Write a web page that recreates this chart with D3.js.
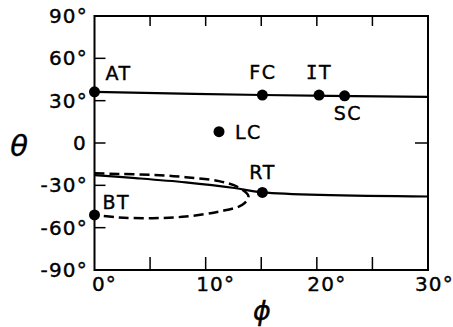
<!DOCTYPE html>
<html>
<head>
<meta charset="utf-8">
<script src="https://cdn.jsdelivr.net/npm/d3@7"></script>
<style>
  body { margin: 0; background: #fff; }
  text { font-family: "DejaVu Sans", sans-serif; fill: #000; stroke: #000; stroke-width: 0.4; }
</style>
</head>
<body>
<div id="chart"></div>
<script>
// tick values / labels
const xTicks = [0, 10, 20, 30];
const xMinorTicks = [5, 10, 15, 20, 25];
const yTicks = [90, 60, 30, 0, -30, -60, -90];
const yTickLabels = ["90°", "60°", "30°", "0", "-30°", "-60°", "-90°"];

// labelled states (phi, theta)
const pointNames = ["AT", "FC", "IT", "SC", "LC", "RT", "BT"];
const pointPhi   = [0, 15.1, 20.2, 22.5, 11.2, 15.1, 0];
const pointTheta = [36.3, 34, 34, 33.4, 8, -35, -51];

// upper solid branch
const upperPhi   = [0, 15.1, 30];
const upperTheta = [36.3, 34, 32.7];

// lower solid branch
const lowerPhi   = [0, 3.7, 8.2, 12.6, 15.1, 30];
const lowerTheta = [-22.8, -24.9, -27.9, -31.9, -35, -37.9];

// dashed loop, BT side
const loopPhi   = [0, 2.1, 5.2, 8.2, 11.2, 12.9, 13.85, 13.3, 11.2, 8.2, 5.2, 2.2, 0];
const loopTheta = [-21.5, -21.9, -22.6, -24.2, -27.0, -31.2, -37.9, -43.8, -48.6, -52.1, -53.3, -52.8, -51];

const W = 453, H = 327;
const box = {left: 94.5, right: 428, top: 16, bottom: 270};

const svg = d3.select("#chart").append("svg")
    .attr("width", W)
    .attr("height", H);

const x = d3.scaleLinear().domain([0, 30]).range([box.left, box.right]);
const y = d3.scaleLinear().domain([-90, 90]).range([box.bottom, box.top]);

// frame
svg.append("rect")
    .attr("x", box.left)
    .attr("y", box.top)
    .attr("width", box.right - box.left)
    .attr("height", box.bottom - box.top)
    .attr("fill", "none")
    .attr("stroke", "#000")
    .attr("stroke-width", 2);

// inner ticks, top and bottom
xMinorTicks.forEach(t => {
    svg.append("line")
        .attr("x1", x(t)).attr("x2", x(t))
        .attr("y1", box.top).attr("y2", box.top + 10)
        .attr("stroke", "#000").attr("stroke-width", 1.5);
    svg.append("line")
        .attr("x1", x(t)).attr("x2", x(t))
        .attr("y1", box.bottom).attr("y2", box.bottom - 13)
        .attr("stroke", "#000").attr("stroke-width", 1.5);
});

// inner ticks, left side, and one on the right at 0
[60, 30, 0, -30, -60].forEach(t => {
    svg.append("line")
        .attr("x1", box.left).attr("x2", box.left + 11)
        .attr("y1", y(t)).attr("y2", y(t))
        .attr("stroke", "#000").attr("stroke-width", 1.5);
});
svg.append("line")
    .attr("x1", box.right).attr("x2", box.right - 13)
    .attr("y1", y(0)).attr("y2", y(0))
    .attr("stroke", "#000").attr("stroke-width", 1.5);

// tick labels
svg.selectAll(".xlab")
    .data(xTicks)
    .enter().append("text")
    .attr("y", 291)
    .attr("text-anchor", "middle")
    .attr("font-size", 20)
    .attr("letter-spacing", 1.2)
    .text(d => d + "°")
    .attr("x", function(d) {
        const w = this.getComputedTextLength();
        return Math.min(x(d) + 10, W + 1 - w / 2);
    });

svg.selectAll(".ylab")
    .data(yTicks)
    .enter().append("text")
    .attr("x", (d, i) => yTickLabels[i].endsWith("°") ? 88 : 87)
    .attr("y", d => y(d) + 7)
    .attr("text-anchor", "end")
    .attr("font-size", 20)
    .attr("letter-spacing", 1.2)
    .text((d, i) => yTickLabels[i]);

// axis titles
svg.append("text")
    .attr("x", 19).attr("y", 156)
    .attr("text-anchor", "middle")
    .attr("font-size", 29)
    .attr("font-style", "italic")
    .text("θ");

svg.append("text")
    .attr("x", 262).attr("y", 320)
    .attr("text-anchor", "middle")
    .attr("font-size", 27)
    .attr("font-style", "italic")
    .text("ϕ");

// curves
const line = d3.line()
    .x(d => x(d[0]))
    .y(d => y(d[1]))
    .curve(d3.curveCatmullRom);

const zip = (a, b) => a.map((v, i) => [v, b[i]]);

svg.append("path")
    .attr("d", line(zip(loopPhi, loopTheta)))
    .attr("fill", "none")
    .attr("stroke", "#000")
    .attr("stroke-width", 2.5)
    .attr("stroke-dasharray", "10,5");

svg.append("path")
    .attr("d", line(zip(upperPhi, upperTheta)))
    .attr("fill", "none")
    .attr("stroke", "#000")
    .attr("stroke-width", 2.2);

svg.append("path")
    .attr("d", line(zip(lowerPhi, lowerTheta)))
    .attr("fill", "none")
    .attr("stroke", "#000")
    .attr("stroke-width", 2.2);

// points
svg.selectAll(".pt")
    .data(pointNames)
    .enter().append("circle")
    .attr("cx", (d, i) => x(pointPhi[i]))
    .attr("cy", (d, i) => y(pointTheta[i]))
    .attr("r", 5.5)
    .attr("fill", "#000");

// point labels, offsets from the dot
const labelDx = [11, -13, -13, -11, 16, -13, 8];
const labelDy = [-12, -16, -16, 24, 7, -13, -6];
svg.selectAll(".plab")
    .data(pointNames)
    .enter().append("text")
    .attr("x", (d, i) => x(pointPhi[i]) + labelDx[i])
    .attr("y", (d, i) => y(pointTheta[i]) + labelDy[i])
    .attr("font-size", 19)
    .attr("letter-spacing", 1.5)
    .each(function(d) {
        const t = d3.select(this);
        if (d === "IT") {
            // the I in the original has serifs
            t.append("tspan").attr("font-family", "DejaVu Sans Mono").text("I");
            t.append("tspan").text("T");
        } else {
            t.text(d);
        }
    });
</script>
</body>
</html>
